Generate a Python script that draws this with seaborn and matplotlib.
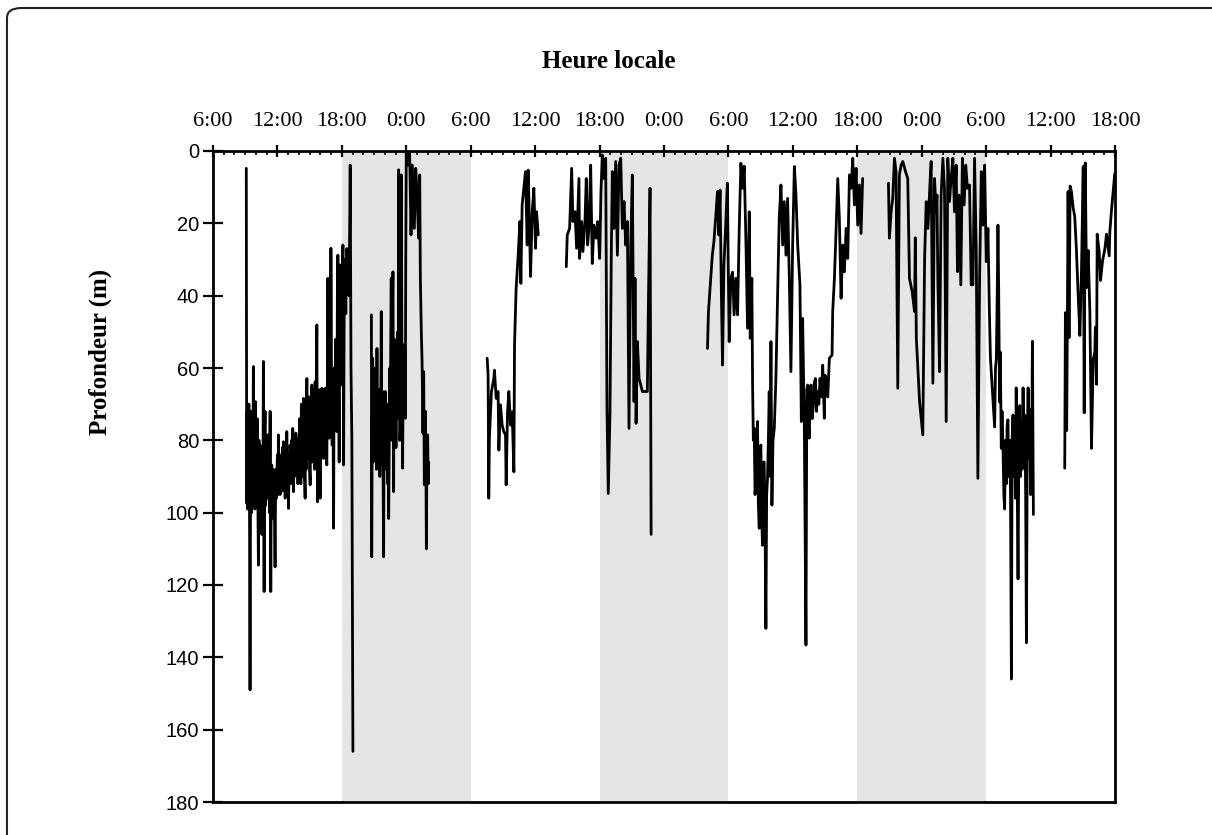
import matplotlib
matplotlib.use("Agg")
import matplotlib.pyplot as plt
import pandas as pd
import seaborn as sns
from matplotlib.patches import FancyBboxPatch
from matplotlib.ticker import MultipleLocator, FixedLocator

# Dive record: hours elapsed since 06:00 on the first day, depth in metres.
# Each bout is a continuous stretch of record; gaps between bouts are left blank.
bout1_hours = [3.10, 3.14, 3.18, 3.22, 3.26, 3.30, 3.34, 3.40, 3.45, 3.50, 3.55, 3.60,
               3.65, 3.70, 3.76, 3.80, 3.85, 3.90, 3.95, 4.00, 4.07, 4.11, 4.15, 4.23,
               4.28, 4.33, 4.38, 4.44, 4.50, 4.54, 4.60, 4.65, 4.69, 4.73, 4.76, 4.80,
               4.85, 4.90, 4.96, 5.02, 5.07, 5.13, 5.20, 5.26, 5.32, 5.38, 5.43, 5.47,
               5.53, 5.58, 5.63, 5.70, 5.78, 5.84, 5.90, 5.94, 6.00, 6.05, 6.09, 6.15,
               6.20, 6.25, 6.32, 6.40, 6.46, 6.52, 6.56, 6.62, 6.68, 6.72, 6.78, 6.83,
               6.87, 6.93, 6.98, 7.03, 7.09, 7.14, 7.18, 7.25, 7.31, 7.37, 7.43, 7.49,
               7.55, 7.60, 7.65, 7.72, 7.80, 7.86, 7.91, 7.96, 8.02, 8.07, 8.12, 8.18,
               8.23, 8.27, 8.33, 8.38, 8.43, 8.50, 8.58, 8.62, 8.67, 8.74, 8.80, 8.85,
               8.89, 8.95, 9.00, 9.05, 9.10, 9.16, 9.20, 9.26, 9.31, 9.36, 9.42, 9.47,
               9.51, 9.57, 9.62, 9.67, 9.73, 9.78, 9.83, 9.89, 9.93, 9.98, 10.04, 10.09,
               10.14, 10.20, 10.25, 10.29, 10.35, 10.40, 10.45, 10.52, 10.60, 10.65,
               10.70, 10.74, 10.82, 10.88, 10.94, 10.98, 11.04, 11.10, 11.16, 11.23,
               11.28, 11.33, 11.38, 11.44, 11.50, 11.54, 11.58, 11.63, 11.68, 11.75,
               11.80, 11.85, 11.90, 11.95, 12.00, 12.05, 12.10, 12.16, 12.22, 12.27,
               12.31, 12.37, 12.42, 12.47, 12.52, 12.57, 12.62, 12.67, 12.72, 12.78,
               12.85, 12.93, 13.03]
bout1_depth = [4.8, 97.4, 72, 99, 71, 96, 70, 99, 149, 88, 72, 100,
               73, 92, 59.6, 98, 78, 99, 69.3, 96, 98, 74, 88, 114.5,
               80, 98, 81.3, 96, 82, 106, 84, 97, 58.2, 96, 121.8, 80,
               72, 98, 80, 95, 78.5, 96, 88, 100, 72, 121.8, 90, 86.8,
               100, 88, 101.6, 92, 115, 88, 96, 90.5, 84, 95, 78.5, 92,
               84, 95, 86, 90.5, 82, 94, 80.4, 92, 84, 96, 82, 90,
               77.6, 92, 84, 98.8, 86, 92, 81.3, 90, 80, 92, 76.7, 94.2,
               82, 90, 86.8, 78, 87.7, 80, 92, 79.4, 88, 74, 76.2, 92,
               70, 84, 76, 90, 68.4, 86, 96, 72, 88, 62.9, 85, 70,
               81.3, 68, 88, 92.3, 70, 82, 64.7, 86, 70, 76.7, 66, 88,
               63.8, 80, 68, 48.1, 97, 70, 72, 86, 66, 96, 70, 82,
               65.6, 84, 68, 85, 66, 80, 65.6, 82, 86.8, 64,
               35.2, 72, 79.4, 60, 72, 26.9, 66, 81.3, 62, 104.3,
               60, 72, 65.6, 52, 68, 77.6, 40, 28.8, 55, 86,
               45, 31.5, 58, 36, 64.7, 33, 26, 86.8, 40, 30,
               37, 45, 30, 27, 38, 30, 31.5, 40, 22.3, 3.9,
               60, 79.4, 166]

bout2_hours = [14.75, 14.78, 14.82, 14.87, 14.92, 14.98, 15.04, 15.11, 15.16, 15.22,
               15.27, 15.32, 15.38, 15.42, 15.48, 15.53, 15.58, 15.62, 15.67, 15.72,
               15.79, 15.84, 15.89, 15.94, 15.99, 16.04, 16.10, 16.15, 16.20, 16.25,
               16.30, 16.36, 16.42, 16.47, 16.51, 16.56, 16.60, 16.66, 16.71, 16.76,
               16.82, 16.87, 16.93, 16.98, 17.04, 17.09, 17.13, 17.20, 17.25, 17.29,
               17.34, 17.39, 17.45, 17.50, 17.54, 17.60, 17.66, 17.71, 17.75, 17.80,
               17.86, 17.91, 17.95, 18.00, 18.16, 18.31, 18.44, 18.56, 18.75, 18.88,
               19.00, 19.15, 19.25, 19.31, 19.40, 19.47, 19.55, 19.62, 19.68, 19.73,
               19.78, 19.83, 19.87, 19.93, 19.99, 20.04, 20.09]
bout2_depth = [45.3, 112.2, 82, 57.3, 86, 60, 84, 79.4, 62, 88,
               54.6, 86, 70, 83, 66, 90, 85, 72, 44.4, 80,
               66.5, 90, 112.2, 70, 88, 66.5, 86, 72, 81.3, 92,
               70, 101.6, 78, 60, 74.8, 50, 35.2, 80, 45, 33.4,
               94.2, 52, 80, 53.6, 82, 60, 73.9, 50, 70, 5.2,
               60, 80, 77.6, 56, 6.6, 62, 87.7, 60, 53.6, 70,
               55, 73.9, 30, 0.2, 3.9, 0.2, 23.2, 3.9, 21.4, 4.8,
               12.2, 24.1, 6.6, 35.2, 50, 58.2, 78, 61, 92.3, 74,
               72, 88, 110, 80, 78.5, 92, 86]

bout3_hours = [25.53, 25.62, 25.68, 25.74, 25.93, 26.15, 26.21, 26.37, 26.55, 26.62,
               26.77, 26.93, 27.08, 27.24, 27.30, 27.43, 27.55, 27.71, 27.86, 28.02,
               28.08, 28.23, 28.42, 28.58, 28.67, 28.79, 29.10, 29.26, 29.35, 29.48,
               29.57, 29.73, 29.88, 30.04, 30.13, 30.29]
bout3_depth = [57.3, 61.9, 96, 79.4, 66.5, 62.9, 60.6, 68.4, 66.5, 82.7,
               70.2, 75.8, 77.6, 78.5, 92.3, 72.1, 66.5, 75.8, 72.1, 88.7,
               53.6, 38, 28.8, 19.5, 36.6, 14.9, 5.7, 26, 5.3, 21.4,
               34.7, 16.8, 10.3, 26.9, 16.8, 23.2]

bout4_hours = [32.90, 32.99, 33.21, 33.40, 33.52, 33.71, 33.86, 34.08, 34.14, 34.33,
               34.45, 34.64, 34.76, 34.89, 35.01, 35.17, 35.32, 35.48, 35.69, 35.82,
               36.01, 36.13, 36.26, 36.41, 36.57, 36.69, 36.81, 36.97, 37.10, 37.19,
               37.35, 37.50, 37.66, 37.81, 37.97, 38.12, 38.28, 38.43, 38.59, 38.74,
               38.90, 39.05, 39.21, 39.30, 39.40, 39.52, 39.68, 39.99, 40.45, 40.55,
               40.70, 40.80]
bout4_depth = [32, 23.2, 21.4, 4.8, 19.5, 16.8, 26.9, 7.6, 29.7, 19.5,
               27.8, 19.5, 7.6, 26, 21.4, 3.9, 31.1, 20.5, 24.1, 19.5,
               29.7, 11.2, 1.1, 7.6, 2, 71.2, 94.7, 72.1, 26, 5.7,
               21.4, 2.9, 28.8, 3.9, 2, 21.4, 14, 26, 19.5, 76.7,
               26, 6.6, 69.3, 35.2, 75.3, 52.7, 62.9, 66.5, 66.5, 41.7,
               10.3, 106]

bout5_hours = [46.05, 46.14, 46.50, 46.65, 46.83, 46.98, 47.10, 47.22, 47.35, 47.45,
               47.58, 47.72, 47.90, 47.98, 48.07, 48.22, 48.38, 48.53, 48.69, 48.85,
               49.00, 49.16, 49.32, 49.47, 49.63, 49.78, 49.94, 50.03, 50.18, 50.25,
               50.32, 50.40, 50.48, 50.56, 50.63, 50.71, 50.79, 50.87, 50.94, 51.02,
               51.09, 51.17, 51.25, 51.33, 51.41, 51.49, 51.56, 51.64, 51.72, 51.80,
               51.88, 51.96, 52.05, 52.15, 52.27, 52.42, 52.58, 52.73, 52.89, 53.05,
               53.20, 53.36, 53.51, 53.67, 53.82, 53.98, 54.14, 54.29, 54.45, 54.66,
               54.79, 54.91, 55.07, 55.22, 55.30, 55.38, 55.46, 55.53, 55.61, 55.69,
               55.80, 55.91, 56.00, 56.10, 56.20, 56.31, 56.42, 56.53, 56.65, 56.78,
               56.93, 57.00, 57.09, 57.25, 57.40, 57.65, 57.71, 57.87, 58.02, 58.18,
               58.33, 58.49, 58.64, 58.80, 58.96, 59.11, 59.27, 59.42, 59.58, 59.73,
               59.89, 60.04, 60.20, 60.35, 60.50]
bout5_depth = [54.6, 44.4, 28.8, 25, 17.7, 11.2, 23.2, 10.8, 40.7, 59.2,
               31.5, 22.3, 8.9, 30.6, 52.7, 35.2, 33.5, 45.3, 35.2, 45.3,
               22.3, 3.4, 10.3, 4.2, 25, 49, 16.8, 51.8, 35.2, 64.7,
               80, 76.7, 95, 90.5, 80, 74.8, 98, 104.3, 84, 81.3,
               100, 109, 86, 86, 105, 132, 95, 90.5, 80, 66.5,
               90, 52.7, 97.9, 80, 76.7, 62.9, 39.8, 18.6, 9.4, 26,
               14, 28.8, 13.1, 35.2, 61, 26, 4.3, 12.2, 26, 37,
               74.8, 46.3, 76.7, 136.6, 66, 64.7, 76, 79.4, 66, 64.7,
               74, 70.2, 64, 62.9, 72, 66.5, 70, 62.9, 68, 59.2,
               73.9, 62, 62.9, 68, 57.3, 56.4, 44.4, 35.2, 22.3, 7.6,
               18.6, 40.7, 26, 33.4, 21.4, 29.7, 6.6, 10.3, 2, 14.9,
               4.8, 20.5, 9.4, 22.8, 7.6]

bout6_hours = [62.90, 62.99, 63.15, 63.30, 63.46, 63.61, 63.77, 63.92, 64.08, 64.24,
               64.49, 64.70, 64.86, 65.11, 65.33, 65.40, 65.50, 65.80, 66.10, 66.27,
               66.42, 66.58, 66.79, 66.88, 67.04, 67.19, 67.35, 67.42, 67.50, 67.66,
               67.81, 67.97, 68.12, 68.28, 68.43, 68.59, 68.74, 68.90, 69.05, 69.21,
               69.33, 69.48, 69.64, 69.79, 69.95, 70.10, 70.26, 70.45, 70.61, 70.77,
               70.92, 71.08, 71.23, 71.39, 71.55, 71.70, 71.86, 72.01, 72.17, 72.30,
               72.40, 72.79, 72.87, 72.95, 73.03, 73.10, 73.17, 73.25, 73.32, 73.41,
               73.48, 73.57, 73.65, 73.72, 73.80, 73.88, 73.95, 74.03, 74.10, 74.19,
               74.27, 74.35, 74.42, 74.50, 74.58, 74.66, 74.73, 74.80, 74.88, 74.97,
               75.05, 75.13, 75.20, 75.28, 75.36, 75.44, 75.52, 75.60, 75.68, 75.75,
               75.83, 75.91, 75.98, 76.06, 76.14, 76.22, 76.31, 76.40]
bout6_depth = [8.9, 24.1, 16.8, 13.1, 2, 5.7, 65.6, 6.6, 3.9, 2.9,
               5.7, 7.6, 35.2, 38.9, 44.4, 24, 51.8, 69.3, 78.5, 29.7,
               14, 21.4, 7.6, 2.9, 64.2, 7.6, 16.8, 12.2, 35.2, 61,
               12.2, 2, 10.3, 74.8, 2, 14, 7.6, 2, 16.8, 3.9,
               33.4, 12.2, 37, 2, 14.9, 3.9, 10.3, 9.4, 37, 37,
               2, 27.8, 90.5, 35.2, 5.7, 20.5, 3.9, 30.6, 21.4, 44.4,
               57.3, 76.3, 60, 57.6, 40, 20.5, 38.8, 69.4, 55.6, 82.2,
               72, 82.2, 95, 99, 80, 92, 76, 74.3, 90, 80,
               95, 146, 80, 73, 90, 80, 96, 65.5, 88, 118.3,
               80, 70.4, 90, 75, 88, 65.5, 85, 73, 95, 136,
               80, 65.5, 85, 71.4, 95, 92, 52.6, 100.5]

bout7_hours = [79.32, 79.38, 79.50, 79.57, 79.63, 79.72, 79.82, 79.94, 80.10, 80.25,
               80.41, 80.57, 80.73, 80.88, 81.04, 81.13, 81.23, 81.35, 81.50, 81.66,
               81.81, 81.97, 82.12, 82.17, 82.28, 82.34, 82.53, 82.65, 82.84, 83.06,
               83.21, 83.46, 83.52, 83.68, 83.98]
bout7_depth = [87.7, 44.7, 77.3, 44.7, 11.2, 51.6, 9.7, 11.2, 15.7, 18.1,
               27.5, 39.8, 51, 32.9, 4.3, 72.4, 3.3, 37.8, 27.5, 44.7,
               82.2, 57.6, 55.6, 48.7, 64.5, 23, 28, 35.8, 30.4, 27,
               23, 29, 22.3, 16.1, 6.2]

# Axis labelling
hour_ticks = [0, 6, 12, 18, 24, 30, 36, 42, 48, 54, 60, 66, 72, 78, 84]
hour_labels = ["6:00", "12:00", "18:00", "0:00", "6:00", "12:00", "18:00", "0:00",
               "6:00", "12:00", "18:00", "0:00", "6:00", "12:00", "18:00"]
depth_ticks = [0, 20, 40, 60, 80, 100, 120, 140, 160, 180]

# Night periods (18:00 to 06:00)
night_start = [12, 36, 60]
night_end = [24, 48, 72]

bouts = [(bout1_hours, bout1_depth), (bout2_hours, bout2_depth),
         (bout3_hours, bout3_depth), (bout4_hours, bout4_depth),
         (bout5_hours, bout5_depth), (bout6_hours, bout6_depth),
         (bout7_hours, bout7_depth)]
df = pd.concat(
    [pd.DataFrame({"heure": h, "profondeur": d, "sequence": i})
     for i, (h, d) in enumerate(bouts, start=1)],
    ignore_index=True,
)

sns.set_style("ticks")
plt.rcParams["text.color"] = "black"
SERIF = ["Liberation Serif", "DejaVu Serif"]
SANS = ["Liberation Sans", "DejaVu Sans"]

fig = plt.figure(figsize=(12.12, 8.35), dpi=100)
ax = fig.add_axes([213 / 1212, 1 - 802 / 835, (1115 - 213) / 1212, (802 - 151) / 835])

for s, e in zip(night_start, night_end):
    ax.axvspan(s, e, color="#e5e5e5", lw=0, zorder=0)

sns.lineplot(data=df, x="heure", y="profondeur", units="sequence", estimator=None,
             sort=False, color="black", linewidth=2.0, legend=False, ax=ax, zorder=3)

ax.set_xlim(0, 84)
ax.set_ylim(180, 0)
ax.set_xlabel("")
ax.set_ylabel("")

# Time axis on top
ax.xaxis.tick_top()
ax.xaxis.set_major_locator(FixedLocator(hour_ticks))
ax.set_xticklabels(hour_labels)
ax.xaxis.set_minor_locator(MultipleLocator(1))
ax.tick_params(axis="x", which="major", direction="inout", length=9, width=1.6,
               pad=10, top=True, bottom=False, labeltop=True, labelbottom=False,
               colors="black")
ax.tick_params(axis="x", which="minor", direction="in", length=3, width=1.4,
               top=True, bottom=False)
for lab in ax.get_xticklabels():
    lab.set_family(SERIF)
    lab.set_fontsize(16)

ax.set_yticks(depth_ticks)
ax.set_yticklabels([str(v) for v in depth_ticks])
ax.tick_params(axis="y", which="major", direction="inout", length=14, width=1.6,
               pad=3, left=True, right=False, colors="black")
for lab in ax.get_yticklabels():
    lab.set_family(SANS)
    lab.set_fontsize(14.5)

for side in ["top", "bottom", "left", "right"]:
    ax.spines[side].set_visible(True)
    ax.spines[side].set_linewidth(2.0)
    ax.spines[side].set_color("black")
ax.set_zorder(2)

fig.text(609 / 1212, 1 - 68 / 835, "Heure locale", ha="center", va="baseline",
         family=SERIF, fontweight="bold", fontsize=18, color="black")
fig.text(100 / 1212, 1 - 352 / 835, "Profondeur (m)", ha="center", va="center",
         rotation=90, family=SERIF, fontweight="bold", fontsize=18, color="black")

# Rounded outer frame
frame = FancyBboxPatch((7 / 1212, -0.2), 1.2, 1 - 8 / 835 + 0.2,
                       boxstyle="round,pad=0,rounding_size=0.012",
                       transform=fig.transFigure, fill=False,
                       edgecolor="#222222", linewidth=1.5, clip_on=False)
fig.patches.append(frame)

fig.savefig("out.png", dpi=100, facecolor="white")
